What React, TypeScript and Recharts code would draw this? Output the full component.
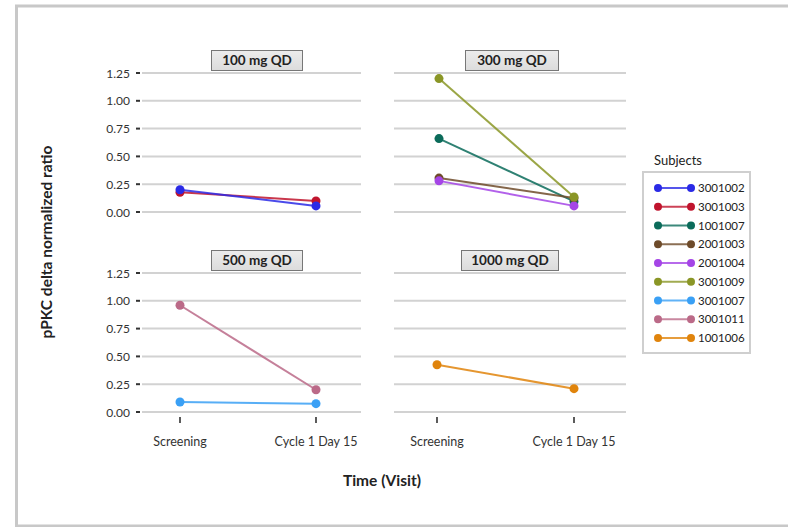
import React from 'react';
import { LineChart, Line, XAxis, YAxis, CartesianGrid } from 'recharts';

const visits = ['Screening', 'Cycle 1 Day 15'];
const subjects = ['3001002', '3001003', '1001007', '2001003', '2001004', '3001009', '3001007', '3001011', '1001006'];
const subjectColors = ['#2a2ae6', '#c0142d', '#0b6b5a', '#6e4b2a', '#a545e6', '#8a9626', '#3aa0f5', '#bb6a88', '#e0840c'];

const s3001002 = [0.2, 0.055];
const s3001003 = [0.178, 0.099];
const s1001007 = [0.66, 0.095];
const s2001003 = [0.305, 0.125];
const s2001004 = [0.28, 0.055];
const s3001009 = [1.2, 0.135];
const s3001007 = [0.09, 0.075];
const s3001011 = [0.96, 0.2];
const s1001006 = [0.425, 0.21];

const seriesValues: Record<string, number[]> = {
  '3001002': s3001002,
  '3001003': s3001003,
  '1001007': s1001007,
  '2001003': s2001003,
  '2001004': s2001004,
  '3001009': s3001009,
  '3001007': s3001007,
  '3001011': s3001011,
  '1001006': s1001006,
};

const panelTitles = ['100 mg QD', '300 mg QD', '500 mg QD', '1000 mg QD'];
const panelSubjects = [
  ['3001003', '3001002'],
  ['1001007', '2001003', '2001004', '3001009'],
  ['3001011', '3001007'],
  ['1001006'],
];
const yTicks = [0, 0.25, 0.5, 0.75, 1.0, 1.25];

const FONT = 'Lato, "Open Sans", sans-serif';

function buildData(subs: string[]) {
  return visits.map((v, i) => {
    const row: Record<string, any> = { visit: v };
    subs.forEach((s) => {
      row[s] = seriesValues[s][i];
    });
    return row;
  });
}

const YTick = (props: any) => {
  const { x, y, payload } = props;
  return (
    <g>
      <line x1={x - 6} x2={x - 2} y1={y} y2={y} stroke="#333" strokeWidth={2} />
      <text x={x - 12} y={y} dy={4.5} textAnchor="end" fontSize={12} fontFamily={FONT} fill="#333">
        {Number(payload.value).toFixed(2)}
      </text>
    </g>
  );
};

const XTick = (props: any) => {
  const { x, y, payload } = props;
  return (
    <g>
      <line x1={x} x2={x} y1={y + 5} y2={y + 11} stroke="#333" strokeWidth={1.6} />
      <text x={x} y={y + 34} textAnchor="middle" fontSize={12.5} fontFamily={FONT} fill="#333">
        {payload.value}
      </text>
    </g>
  );
};

type PanelProps = {
  idx: number;
  plotLeft: number;
  plotTop: number;
  plotW: number;
  plotH: number;
  showY: boolean;
  showX: boolean;
  padL: number;
  padR: number;
  boxLeft: number;
  boxW: number;
};

const Panel = ({ idx, plotLeft, plotTop, plotW, plotH, showY, showX, padL, padR, boxLeft, boxW }: PanelProps) => {
  const subs = panelSubjects[idx];
  const data = buildData(subs);
  const yW = showY ? 62 : 0;
  const xH = showX ? 50 : 0;
  const mTop = 10;
  const mRight = 10;
  const mBottom = 12;
  const width = yW + plotW + mRight;
  const height = mTop + plotH + xH + mBottom;
  return (
    <>
      <div style={{ position: 'absolute', left: plotLeft - yW, top: plotTop - mTop }}>
        <LineChart width={width} height={height} data={data} margin={{ top: mTop, right: mRight, left: 0, bottom: mBottom }}>
          <CartesianGrid vertical={false} stroke="#d2d2d2" strokeWidth={2} />
          <XAxis
            dataKey="visit"
            hide={!showX}
            height={xH}
            padding={{ left: padL, right: padR }}
            axisLine={false}
            tickLine={false}
            tickSize={0}
            tickMargin={0}
            tick={<XTick />}
            interval={0}
          />
          <YAxis
            hide={!showY}
            width={yW}
            domain={[0, 1.25]}
            ticks={yTicks}
            axisLine={false}
            tickLine={false}
            tickSize={0}
            tickMargin={0}
            tick={<YTick />}
            interval={0}
          />
          {subs.map((s) => {
            const c = subjectColors[subjects.indexOf(s)];
            return (
              <Line
                key={s}
                dataKey={s}
                stroke={c}
                strokeOpacity={0.85}
                strokeWidth={2}
                dot={{ r: 4.5, fill: c, stroke: c, strokeWidth: 0 }}
                isAnimationActive={false}
              />
            );
          })}
        </LineChart>
      </div>
      <div
        style={{
          position: 'absolute',
          left: boxLeft,
          top: plotTop - 23,
          width: boxW,
          height: 21,
          boxSizing: 'border-box',
          border: '1px solid #777',
          background: 'linear-gradient(#ececec, #dcdcdc)',
          fontFamily: FONT,
          fontWeight: 700,
          fontSize: 13.5,
          color: '#222',
          textAlign: 'center',
          lineHeight: '19px',
        }}
      >
        {panelTitles[idx]}
      </div>
    </>
  );
};

const Legend = () => {
  const top = 188;
  const step = 18.75;
  return (
    <g>
      <text x={654} y={165} fontSize={13} fontFamily={FONT} fill="#222">Subjects</text>
      <rect x={643} y={172} width={107} height={181} fill="#fff" stroke="#cfcfcf" strokeWidth={2} />
      {subjects.map((s, i) => {
        const y = top + i * step;
        const c = subjectColors[i];
        return (
          <g key={s}>
            <line x1={658} x2={691} y1={y} y2={y} stroke={c} strokeOpacity={0.8} strokeWidth={2} />
            <circle cx={658} cy={y} r={4} fill={c} />
            <circle cx={691} cy={y} r={4} fill={c} />
            <text x={698} y={y + 4} fontSize={11.5} fontFamily={FONT} fill="#222">{s}</text>
          </g>
        );
      })}
    </g>
  );
};

export default function App() {
  return (
    <div style={{ position: 'fixed', left: 0, top: 0, width: 788, height: 527, background: '#fff', overflow: 'hidden' }}>
      <svg width={788} height={527} style={{ position: 'absolute', left: 0, top: 0 }}>
        <path d="M 800 6 H 16.5 V 526 H 800" fill="none" stroke="#c8c8c8" strokeWidth={3} />
        <text
          x={0}
          y={0}
          transform="translate(52 242) rotate(-90)"
          textAnchor="middle"
          fontSize={15.5}
          fontWeight={700}
          fontFamily={FONT}
          fill="#222"
        >
          pPKC delta normalized ratio
        </text>
        <text x={382} y={486} textAnchor="middle" fontSize={15.5} fontWeight={700} fontFamily={FONT} fill="#222">
          Time (Visit)
        </text>
        <Legend />
      </svg>
      <Panel idx={0} plotLeft={142} plotTop={73} plotW={219} plotH={139} showY showX={false} padL={38} padR={45} boxLeft={211} boxW={92} />
      <Panel idx={1} plotLeft={394} plotTop={73} plotW={232} plotH={139} showY={false} showX={false} padL={45} padR={52} boxLeft={465} boxW={94} />
      <Panel idx={2} plotLeft={142} plotTop={273} plotW={219} plotH={139} showY showX padL={38} padR={45} boxLeft={211} boxW={92} />
      <Panel idx={3} plotLeft={394} plotTop={273} plotW={232} plotH={139} showY={false} showX padL={43} padR={52} boxLeft={461} boxW={98} />
    </div>
  );
}
